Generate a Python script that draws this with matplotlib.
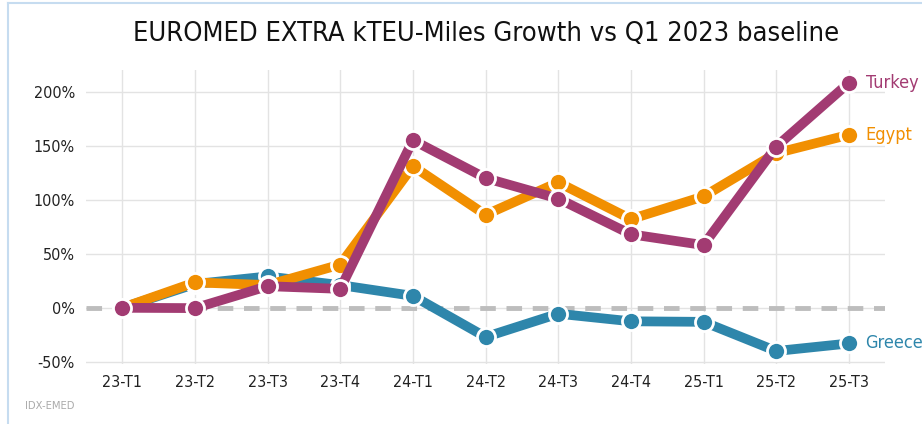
import numpy as np
import matplotlib
matplotlib.use("Agg")
import matplotlib.pyplot as plt
from matplotlib.lines import Line2D
from matplotlib.ticker import FuncFormatter

# Data
quarters = ["23-T1", "23-T2", "23-T3", "23-T4", "24-T1", "24-T2",
            "24-T3", "24-T4", "25-T1", "25-T2", "25-T3"]
greece = [0, 22, 29, 21, 11, -27, -5.5, -12.5, -13, -40, -33]
egypt = [0, 23.5, 21, 40, 131, 86, 116, 82, 103, 143, 160]
turkey = [0, -0.3, 20, 17.5, 155, 120, 101, 68, 58, 149, 208]

series = [("Greece", greece, "#2e86ab"),
          ("Egypt", egypt, "#f18f01"),
          ("Turkey", turkey, "#a23b72")]

plt.rcParams['font.family'] = ['DejaVu Sans']
plt.rcParams['font.stretch'] = 'condensed'

fig = plt.figure(figsize=(9.22, 4.24), dpi=100)
ax = fig.add_axes([0.0933, 0.1415, 0.8667, 0.6935])

x = np.arange(len(quarters))
ax.axhline(0, color="#bdbdbd", lw=3.5, dashes=(3.2, 2.2), zorder=1)

for i, (name, vals, col) in enumerate(series):
    ax.plot(x, vals, color=col, lw=7, marker="o", markersize=13,
            markeredgecolor="white", markeredgewidth=2, zorder=3 + i,
            solid_capstyle="round")
    ax.text(x[-1] + 0.23, vals[-1], name, color=col, fontsize=13,
            va="center", ha="left", clip_on=False)

ax.set_xlim(-0.5, 10.5)
ax.set_ylim(-52, 220)
ax.set_xticks(x)
ax.set_xticklabels(quarters)
ax.set_yticks([-50, 0, 50, 100, 150, 200])
ax.yaxis.set_major_formatter(FuncFormatter(lambda v, p: f"{v:.0f}%"))
ax.tick_params(length=0, labelsize=11.5, pad=8, colors="#222222")
ax.grid(True, color="#e3e3e3", lw=1)
ax.set_axisbelow(True)
for s in ax.spines.values():
    s.set_visible(False)

fig.suptitle("EUROMED EXTRA kTEU-Miles Growth vs Q1 2023 baseline",
             fontsize=19.5, x=0.527, y=0.95, color="#111111")
fig.text(0.027, 0.035, "IDX-EMED", fontsize=8, color="#aaaaaa")

# light frame on left/top
fig.add_artist(Line2D([0.009, 0.009], [0, 0.993], color="#c6dcf0", lw=1.5,
                      transform=fig.transFigure))
fig.add_artist(Line2D([0.009, 1.0], [0.993, 0.993], color="#c6dcf0", lw=1.5,
                      transform=fig.transFigure))

fig.savefig("out.png", dpi=100)
